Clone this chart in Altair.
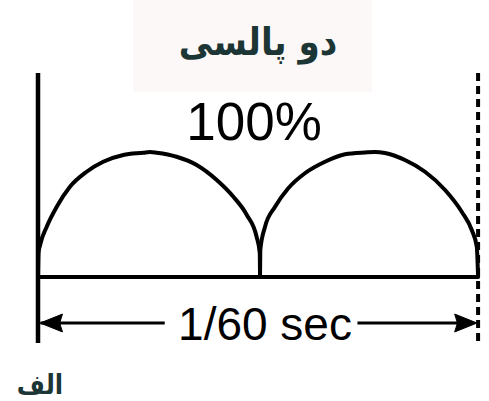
import altair as alt
import pandas as pd

# Two-pulse (full-wave rectified) waveform over one 1/60 s period.
# Time in milliseconds, amplitude in percent of peak.
pulse1_t = [0.00, 0.02, 0.08, 0.33, 0.71, 1.21, 1.84, 2.47, 3.23, 3.99, 4.24,
            4.50, 5.25, 6.01, 6.77, 7.40, 7.91, 8.28, 8.40, 8.41]
pulse1_amp = [0, 19.2, 25.6, 40.2, 56.2, 72.2, 84.2, 92.2, 97.6, 99.4, 100,
              99.4, 96.2, 89.6, 77.6, 64.2, 49.6, 32.2, 19.2, 0]
pulse2_t = [8.41, 8.42, 8.60, 8.98, 9.48, 10.11, 10.87, 11.63, 12.39, 12.77,
            13.14, 13.90, 14.66, 15.42, 16.05, 16.43, 16.62, 16.67]
pulse2_amp = [0, 21.6, 40.2, 56.2, 71.0, 83.0, 92.2, 98.2, 99.6, 100,
              99.2, 93.6, 84.2, 69.6, 52.2, 37.6, 24.2, 0]

period_ms = 16.67
peak_label = "100%"
span_label = "1/60 sec"
title_label = "دو پالسی"
panel_label = "الف"

# Dimension arrow: shaft pieces either side of the label, and the two tips (ms)
arrow_start = [0.10, 12.10]
arrow_end = [4.80, 16.40]
arrow_tips = [0.08, 16.63]

W, H = 489, 401
x_scale = alt.Scale(domain=[-1.4394, 17.0833], nice=False, zero=False)
y_scale = alt.Scale(domain=[-99.2, 221.6], nice=False, zero=False)
X = lambda f: alt.X(f, type="quantitative", scale=x_scale, axis=None)
Y = lambda f: alt.Y(f, type="quantitative", scale=y_scale, axis=None)

wave_df = pd.concat([
    pd.DataFrame({"t": pulse1_t, "amp": pulse1_amp, "pulse": 1}),
    pd.DataFrame({"t": pulse2_t, "amp": pulse2_amp, "pulse": 2}),
], ignore_index=True)
wave_df["i"] = range(len(wave_df))
bounds_df = pd.DataFrame({"t": [0.0, period_ms]})

title_box = alt.Chart(pd.DataFrame({"a": [0]})).mark_rect(
    fill="#fdf8f8").encode(
    x=alt.value(133), x2=alt.value(372), y=alt.value(0), y2=alt.value(92))

wave = alt.Chart(wave_df).mark_line(
    color="black", strokeWidth=4, interpolate="monotone",
    strokeCap="round", strokeJoin="round").encode(
    x=X("t"), y=Y("amp"), detail="pulse:N", order="i:Q")

baseline = alt.Chart(pd.DataFrame({"t0": [0.0], "t1": [period_ms], "a": [0]})).mark_rule(
    color="black", strokeWidth=4).encode(
    x=X("t0"), x2="t1", y=Y("a"))

left_mark = alt.Chart(bounds_df.iloc[[0]]).mark_rule(
    color="black", strokeWidth=4.5).encode(
    x=X("t"), y=alt.value(73), y2=alt.value(343))

right_mark = alt.Chart(bounds_df.iloc[[1]]).mark_rule(
    color="black", strokeWidth=4, strokeDash=[8, 5]).encode(
    x=X("t"), y=alt.value(73), y2=alt.value(346))

shaft = alt.Chart(pd.DataFrame({"s": arrow_start, "e": arrow_end})).mark_rule(
    color="black", strokeWidth=3).encode(
    x=X("s"), x2="e", y=alt.value(323))

tips_df = pd.DataFrame({"t": arrow_tips})
left_tip = alt.Chart(tips_df.iloc[[0]]).mark_point(
    shape="M 0 0 L 2 -0.8 L 1.75 0 L 2 0.8 Z", size=500, filled=True,
    fill="black", stroke="black", strokeWidth=1, opacity=1).encode(
    x=X("t"), y=alt.value(323))
right_tip = alt.Chart(tips_df.iloc[[1]]).mark_point(
    shape="M 0 0 L -2 -0.8 L -1.75 0 L -2 0.8 Z", size=500, filled=True,
    fill="black", stroke="black", strokeWidth=1, opacity=1).encode(
    x=X("t"), y=alt.value(323))


def label(text, x, y, size, font, color="black", weight="normal"):
    return alt.Chart(pd.DataFrame({"txt": [text]})).mark_text(
        font=font, fontSize=size, color=color, fontWeight=weight,
        align="center", baseline="alphabetic").encode(
        text="txt:N", x=alt.value(x), y=alt.value(y))


arabic_font = "DejaVu Sans Condensed, DejaVu Sans"
peak_text = label(peak_label, 254, 140, 53, "Liberation Sans")
span_text = label(span_label, 265, 340, 46, "Liberation Sans")
title_text = label(title_label, 258, 55, 38, arabic_font, color="#1c3535", weight="bold")
panel_text = label(panel_label, 40, 394, 27, arabic_font, color="#1c3535", weight="bold")

chart = alt.layer(
    title_box, baseline, wave, left_mark, right_mark, shaft, left_tip, right_tip,
    peak_text, span_text, title_text, panel_text,
).properties(
    width=W, height=H, padding=0, autosize=alt.AutoSizeParams(type="none"),
    background="white",
).configure_view(stroke=None)

chart.save("out.html", embed_options={"renderer": "svg", "actions": False})
